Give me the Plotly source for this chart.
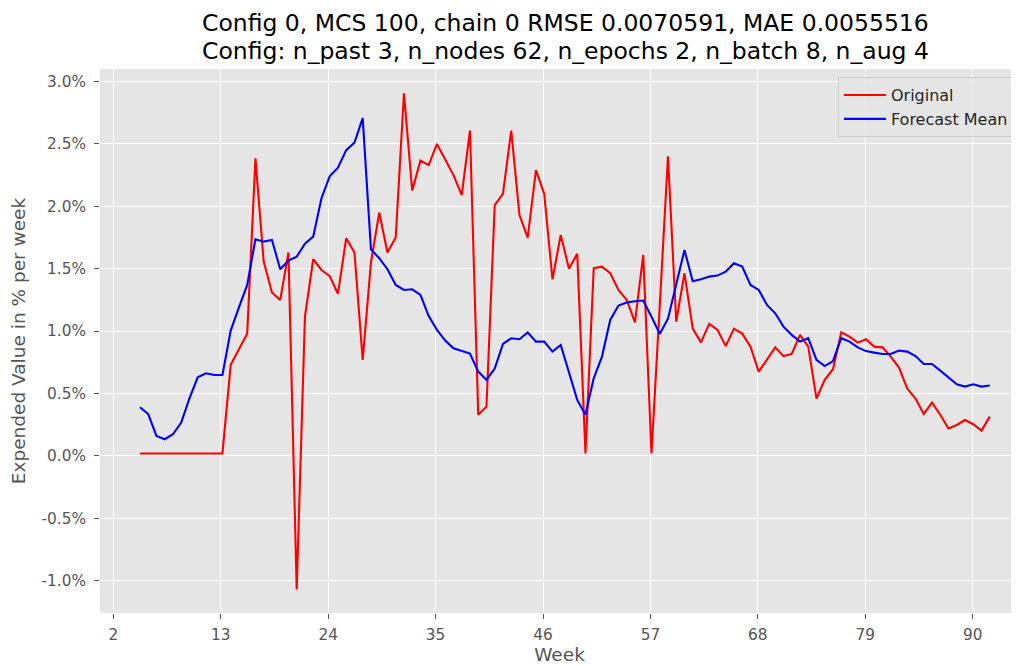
import plotly.graph_objects as go

# x positions (weeks) of the evenly spaced samples
week_start = 4.73
week_step = 0.8448
n_points = 104
weeks = [round(week_start + week_step * i, 3) for i in range(n_points)]

# values in percent per week
original = [
    0.02, 0.02, 0.02, 0.02, 0.02, 0.02, 0.02, 0.02, 0.02, 0.02,
    0.02, 0.73, 0.86, 0.98, 2.385, 1.557, 1.31, 1.25, 1.63, -1.07,
    1.117, 1.576, 1.49, 1.44, 1.30, 1.744, 1.63, 0.77, 1.55, 1.95,
    1.63, 1.75, 2.906, 2.126, 2.366, 2.33, 2.50, 2.37, 2.25, 2.09,
    2.607, 0.33, 0.395, 2.01, 2.10, 2.607, 1.93, 1.75, 2.29, 2.10,
    1.415, 1.77, 1.50, 1.62, 0.02, 1.504, 1.517, 1.464, 1.33, 1.25,
    1.07, 1.61, 0.02, 1.20, 2.40, 1.076, 1.464, 1.02, 0.91, 1.058,
    1.01, 0.88, 1.02, 0.98, 0.876, 0.676, 0.775, 0.87, 0.80, 0.817,
    0.97, 0.876, 0.46, 0.61, 0.695, 0.99, 0.956, 0.908, 0.935, 0.876,
    0.87, 0.796, 0.708, 0.54, 0.46, 0.336, 0.427, 0.33, 0.22, 0.248,
    0.288, 0.254, 0.203, 0.315,
]
forecast_mean = [
    0.39, 0.336, 0.16, 0.134, 0.174, 0.267, 0.462, 0.63, 0.662, 0.649,
    0.649, 1.004, 1.19, 1.37, 1.736, 1.717, 1.73, 1.496, 1.565, 1.597,
    1.70, 1.757, 2.065, 2.24, 2.31, 2.45, 2.51, 2.706, 1.656, 1.584,
    1.496, 1.37, 1.33, 1.335, 1.29, 1.12, 1.01, 0.924, 0.863, 0.84,
    0.82, 0.676, 0.609, 0.70, 0.897, 0.943, 0.935, 0.99, 0.916, 0.916,
    0.836, 0.889, 0.676, 0.449, 0.33, 0.622, 0.796, 1.09, 1.205, 1.23,
    1.24, 1.245, 1.116, 0.978, 1.10, 1.384, 1.65, 1.40, 1.415, 1.437,
    1.445, 1.477, 1.544, 1.517, 1.37, 1.33, 1.21, 1.143, 1.036, 0.97,
    0.916, 0.943, 0.77, 0.72, 0.76, 0.943, 0.916, 0.87, 0.84, 0.828,
    0.817, 0.817, 0.844, 0.836, 0.80, 0.737, 0.737, 0.684, 0.63, 0.574,
    0.556, 0.574, 0.556, 0.564,
]

x_ticks = [2, 13, 24, 35, 46, 57, 68, 79, 90]
y_ticks = [-1.0, -0.5, 0.0, 0.5, 1.0, 1.5, 2.0, 2.5, 3.0]
y_tick_text = ["-1.0%", "-0.5%", "0.0%", "0.5%", "1.0%", "1.5%", "2.0%", "2.5%", "3.0%"]

title_line1 = "Config 0, MCS 100, chain 0 RMSE 0.0070591, MAE 0.0055516"
title_line2 = "Config: n_past 3, n_nodes 62, n_epochs 2, n_batch 8, n_aug 4"

font_family = "DejaVu Sans, Verdana, sans-serif"

fig = go.Figure()
fig.add_trace(go.Scatter(x=weeks, y=original, mode="lines", name="Original",
                         line=dict(color="#ff0000", width=2.1)))
fig.add_trace(go.Scatter(x=weeks, y=forecast_mean, mode="lines", name="Forecast Mean",
                         line=dict(color="#0000ff", width=2.1)))

# page body has an 8px margin, so figure coords = page coords - 8
fig.update_layout(
    width=1011, height=658,
    margin=dict(l=92, r=0, t=61, b=53, autoexpand=False),
    paper_bgcolor="white",
    plot_bgcolor="#e5e5e5",
    font=dict(family=font_family, color="#555555", size=15),
    legend=dict(x=0.803, y=0.985, xanchor="left", yanchor="top",
                bgcolor="rgba(229,229,229,0.85)", bordercolor="#cccccc", borderwidth=1,
                font=dict(size=16, color="#262626", family=font_family),
                itemwidth=42),
    showlegend=True,
)
for txt, yy in [(title_line1, 1.0840), (title_line2, 1.0340)]:
    fig.add_annotation(text=txt, x=0.506, y=yy, xref="paper", yref="paper",
                       xanchor="center", yanchor="middle", showarrow=False,
                       font=dict(size=23.5, color="#000000", family=font_family))

fig.update_xaxes(
    range=[0.64, 94.74], tickvals=x_ticks, ticktext=[str(t) for t in x_ticks],
    showgrid=True, gridcolor="white", gridwidth=1.2, zeroline=False,
    ticks="outside", ticklen=5, tickcolor="#555555", tickwidth=1, ticklabelstandoff=3,
    title=dict(text="Week", font=dict(size=18.5, color="#555555"), standoff=4),
    tickfont=dict(size=15.3, color="#555555"), showline=False, automargin=False,
)
fig.update_yaxes(
    range=[-1.258, 3.10], tickvals=y_ticks, ticktext=y_tick_text,
    showgrid=True, gridcolor="white", gridwidth=1.2, zeroline=False,
    ticks="outside", ticklen=5, tickcolor="#555555", tickwidth=1, ticklabelstandoff=5,
    title=dict(text="Expended Value in % per week", font=dict(size=18.5, color="#555555"), standoff=12),
    tickfont=dict(size=15.3, color="#555555"), showline=False, automargin=False,
)

fig.write_html("out.html")
